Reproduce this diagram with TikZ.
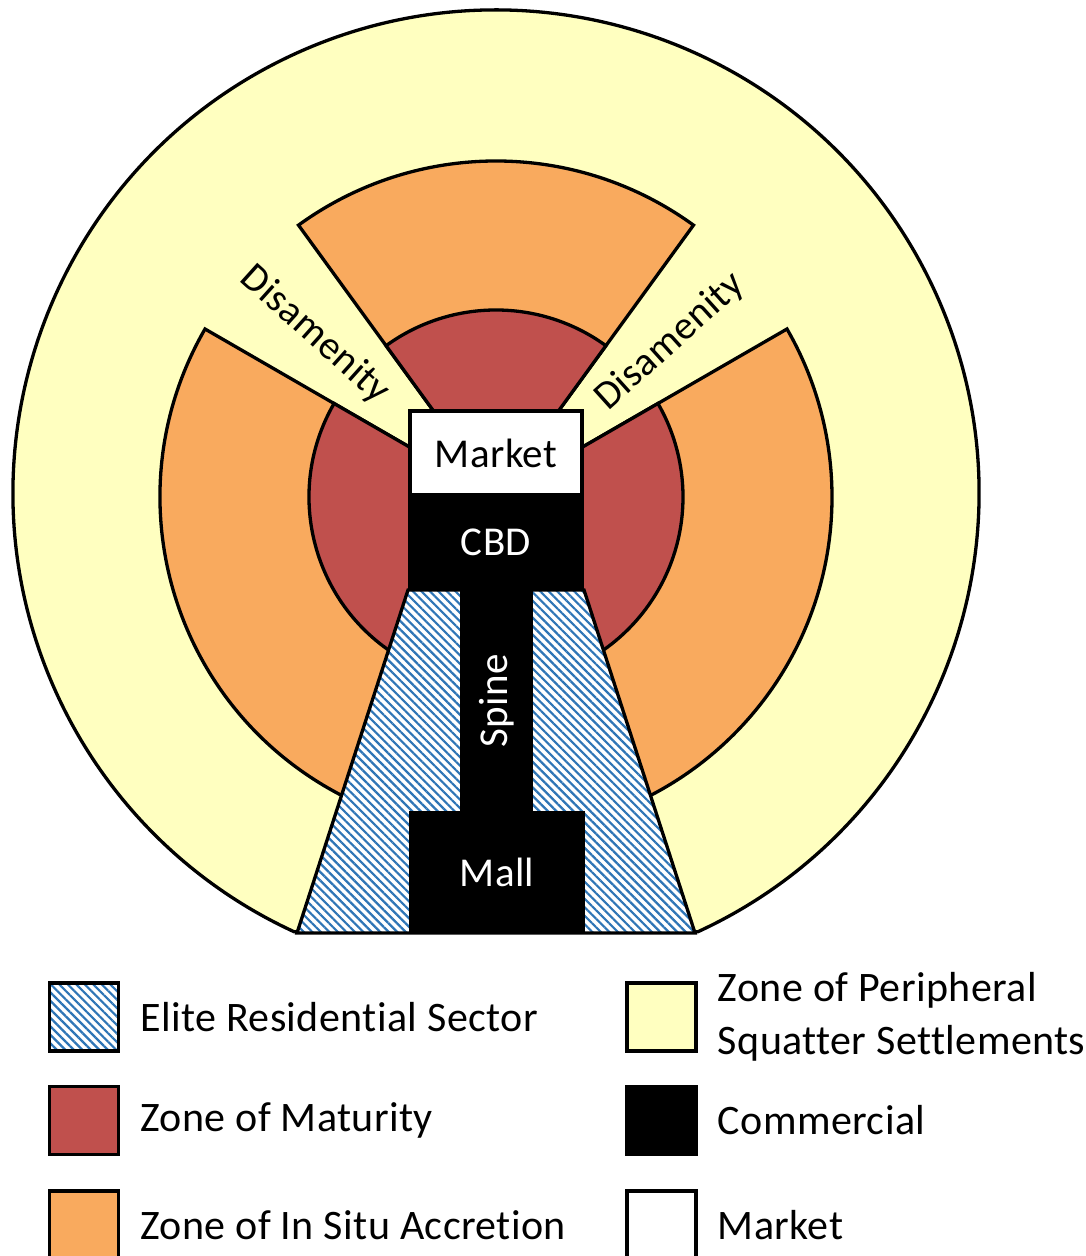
\documentclass[tikz,border=0pt]{standalone}
\usepackage{fontspec}
\setmainfont{Carlito}[Ligatures=NoCommon, LetterSpace=1]
\usetikzlibrary{positioning,patterns.meta}

\definecolor{periphery}{RGB}{255,255,192}
\definecolor{accretion}{RGB}{249,170,94}
\definecolor{maturity}{RGB}{192,80,77}
\definecolor{elite}{RGB}{46,117,182}

\begin{document}
\begin{tikzpicture}[x=1pt, y=1pt,
  zone/.style={draw, line width=3.3pt},
  hatched/.style={preaction={fill=white}, pattern={Lines[angle=-45, distance=6pt, line width=2.2pt]}, pattern color=elite},
  commercial/.style={fill=black, text=white, inner sep=0pt, font=\fontsize{41}{41}\selectfont},
  keybox/.style={draw, line width=3.3pt, minimum width=69pt, minimum height=68pt, inner sep=0pt},
  keytext/.style={inner sep=0pt, align=left, font=\fontsize{42}{53}\selectfont}]
\useasboundingbox (0,0) rectangle (1086,1256);
\clip (0,0) rectangle (1086,1256);
\coordinate (core) at (496,759);
\coordinate (rim) at (496,763);
% peripheral ring
\draw[zone, fill=periphery] (rim) ++(-65.3:483) arc[start angle=-65.3, end angle=245.3, radius=483] -- cycle;
% in situ accretion sectors
\draw[zone, fill=accretion] (core) -- ++(54:336) arc[start angle=54, end angle=126, radius=336] -- cycle;
\draw[zone, fill=accretion] (core) -- ++(150:336) arc[start angle=150, end angle=270, radius=336] -- cycle;
\draw[zone, fill=accretion] (core) -- ++(-90:336) arc[start angle=-90, end angle=30, radius=336] -- cycle;
% zone of maturity
\draw[zone, fill=maturity] (core) -- ++(54:187) arc[start angle=54, end angle=126, radius=187] -- cycle;
\draw[zone, fill=maturity] (core) -- ++(150:187) arc[start angle=150, end angle=270, radius=187] -- cycle;
\draw[zone, fill=maturity] (core) -- ++(-90:187) arc[start angle=-90, end angle=30, radius=187] -- cycle;
% elite residential sector
\draw[zone, hatched] (297,323) -- (695,323) -- (584,666) -- (408,666) -- cycle;
% commercial spine
\node[commercial, minimum width=176pt, minimum height=95pt] (cbd) at (496,713.5) {CBD};
\node[commercial, minimum width=222pt, minimum height=73pt, rotate=90] (spine) at (496.5,555) {Spine};
\node[commercial, minimum width=176pt, minimum height=122pt] (mall) at (497,384) {Mall};
\node[draw, fill=white, line width=3.3pt, minimum width=172pt, minimum height=84pt, font=\fontsize{41}{41}\selectfont] (market) at (496,803) {Market};
% disamenity wedges
\node[rotate=-42, inner sep=0pt, font=\fontsize{40}{40}\selectfont] (disLeft) at (315,921) {Disamenity};
\node[rotate=42, inner sep=0pt, font=\fontsize{40}{40}\selectfont] (disRight) at (670,914) {Disamenity};
% legend
\node[keybox, hatched] (keyElite) at (84,239) {};
\node[keytext, right=20pt of keyElite] (txtElite) {Elite Residential Sector};
\node[keybox, fill=maturity] (keyMaturity) at (84,135.5) {};
\node[keytext, right=20pt of keyMaturity] (txtMaturity) {Zone of Maturity};
\node[keybox, fill=accretion] (keyAccretion) at (84,31) {};
\node[keytext, right=20pt of keyAccretion] (txtAccretion) {Zone of In Situ Accretion};
\node[keybox, fill=periphery] (keyPeriphery) at (661.5,239) {};
\node[keytext, right=20pt of keyPeriphery] (txtPeriphery) {Zone of Peripheral\\Squatter Settlements};
\node[keybox, fill=black] (keyCommercial) at (661.5,135.5) {};
\node[keytext, right=20pt of keyCommercial] (txtCommercial) {Commercial};
\node[keybox, fill=white] (keyMarket) at (661.5,31) {};
\node[keytext, right=20pt of keyMarket] (txtMarket) {Market};
\end{tikzpicture}
\end{document}
